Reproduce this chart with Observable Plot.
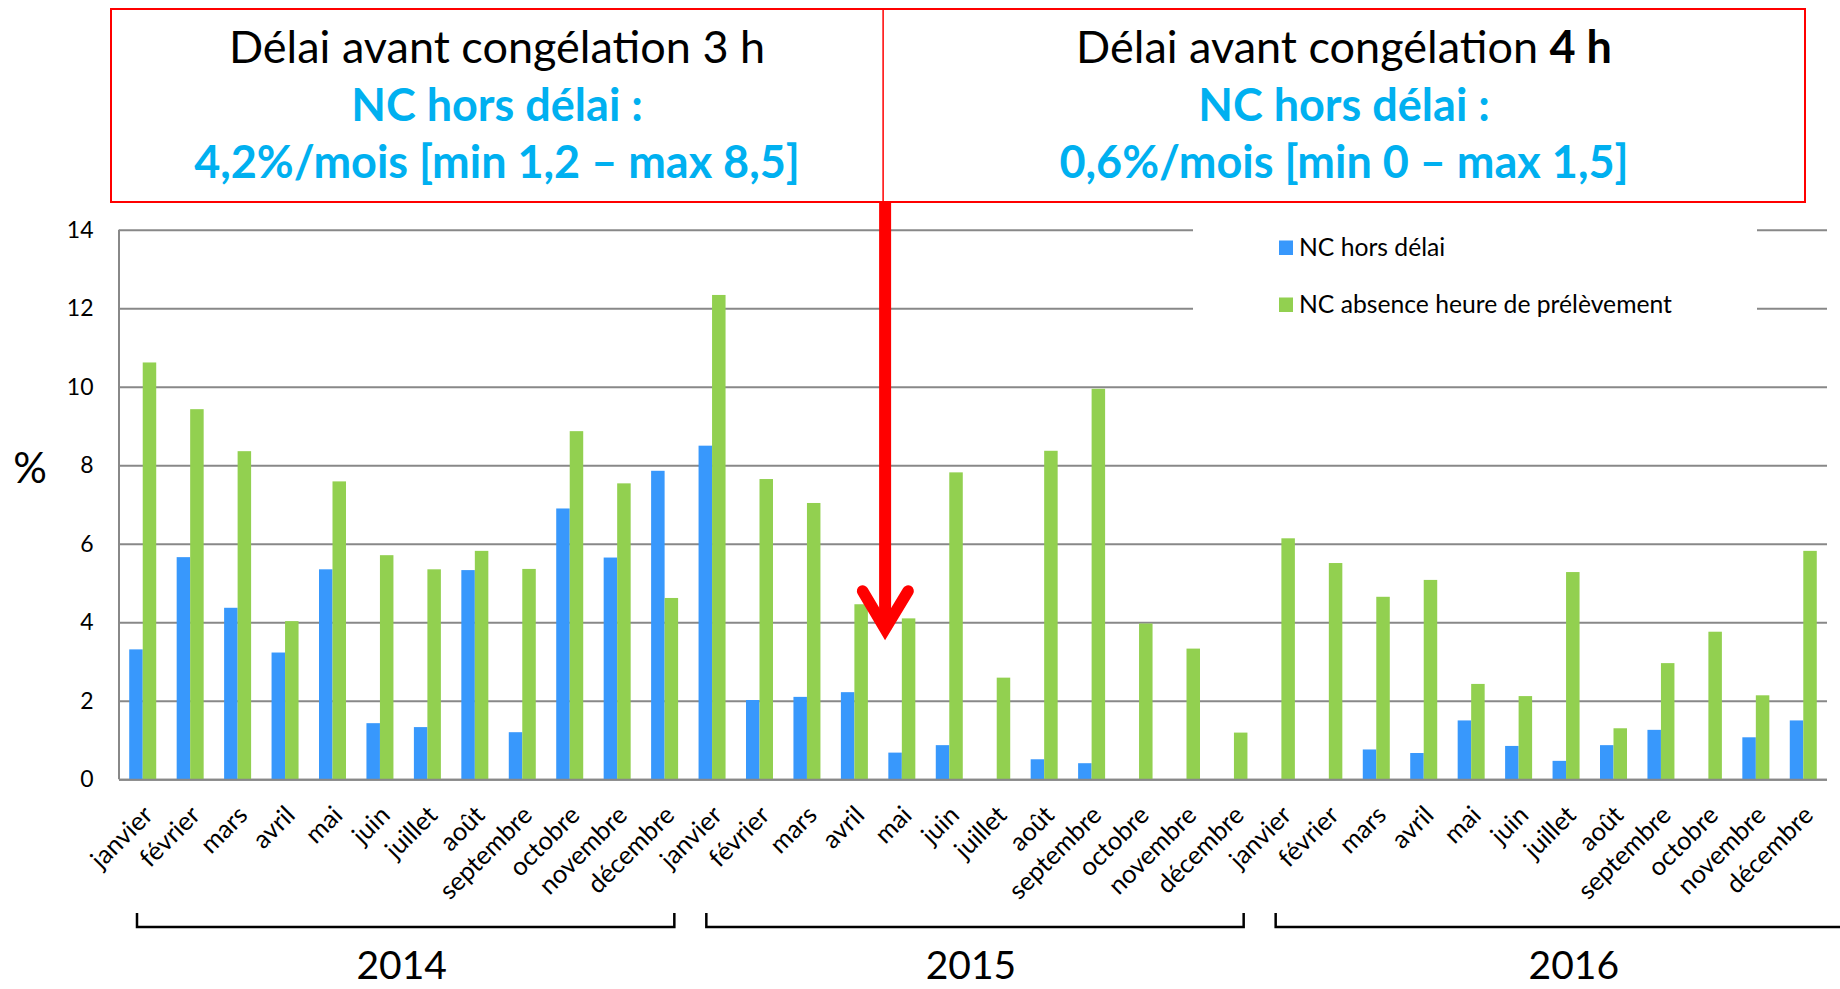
<!DOCTYPE html>
<html lang="fr">
<head>
<meta charset="utf-8">
<title>NC hors délai et NC absence heure de prélèvement, 2014–2016</title>
<script src="https://cdn.jsdelivr.net/npm/d3@7"></script>
<script src="https://cdn.jsdelivr.net/npm/@observablehq/plot@0.6"></script>
<style>
  html, body { margin: 0; padding: 0; background: #fff; overflow: hidden; }
  #chart svg { display: block; }
</style>
</head>
<body>
<div id="chart"></div>
<script>
// Monthly non-conformity rates (%), January 2014 – December 2016
const years = ["2014", "2015", "2016"];
const monthNames = ["janvier", "février", "mars", "avril", "mai", "juin",
  "juillet", "août", "septembre", "octobre", "novembre", "décembre"];

// NC hors délai (sample frozen too late), one value per month
const ncHorsDelai = [
  3.31, 5.66, 4.37, 3.23, 5.35, 1.43, 1.33, 5.33, 1.2, 6.90, 5.65, 7.86,
  8.5, 2.02, 2.10, 2.22, 0.68, 0.87, 0, 0.51, 0.41, 0, 0, 0,
  0, 0, 0.76, 0.67, 1.5, 0.85, 0.47, 0.87, 1.26, 0, 1.07, 1.5
];
// NC absence heure de prélèvement (sampling time missing)
const ncAbsenceHeure = [
  10.62, 9.43, 8.36, 4.03, 7.59, 5.71, 5.35, 5.82, 5.36, 8.87, 7.54, 4.62,
  12.34, 7.65, 7.04, 4.46, 4.10, 7.82, 2.59, 8.37, 9.95, 3.97, 3.33, 1.19,
  6.14, 5.51, 4.65, 5.08, 2.43, 2.12, 5.28, 1.30, 2.96, 3.76, 2.14, 5.82
];

const seriesNames = ["NC hors délai", "NC absence heure de prélèvement"];
const yTicks = [0, 2, 4, 6, 8, 10, 12, 14];

// The two freezing-delay periods; the change happens in May 2015
const periodStart = ["2014-1", "2015-5"];
const periodTitle = ["Délai avant congélation ", "Délai avant congélation "];
const periodHours = ["3 h", "4 h"];
const periodHoursBold = [false, true];
const periodSummary = ["NC hors délai :", "NC hors délai :"];
const periodDetail = ["4,2%/mois [min 1,2 – max 8,5]", "0,6%/mois [min 0 – max 1,5]"];

// ---- styling and layout ----
const BLUE = "#3898fc";
const GREEN = "#92d050";
const GRID = "#888888";
const RED = "#ff0000";
const CYAN = "#00b0f0";
const FONT = "Lato, 'Open Sans', sans-serif";

const W = 1840, H = 989;
const M = {top: 229.8, right: 13, bottom: 209.7, left: 119};
const padInner = 0.431, padOuter = padInner / 2;
const nMonths = years.length * monthNames.length;
const stepPx = (W - M.left - M.right) / nMonths;
const bwPx = stepPx * (1 - padInner);

const rows = years.flatMap((year, yi) => monthNames.map((month, mi) => ({
  id: `${year}-${mi + 1}`,
  year,
  month,
  hors: ncHorsDelai[yi * 12 + mi],
  absence: ncAbsenceHeure[yi * 12 + mi]
})));

const plot = Plot.plot({
  width: W,
  height: H,
  marginTop: M.top,
  marginRight: M.right,
  marginBottom: M.bottom,
  marginLeft: M.left,
  style: {fontFamily: FONT, fontSize: "23px", color: "#000", background: "#fff", overflow: "visible"},
  x: {type: "band", domain: rows.map(d => d.id), paddingInner: padInner, paddingOuter: padOuter, round: false, axis: null},
  y: {domain: [0, 14], ticks: yTicks, tickSize: 0, tickPadding: 26, label: null},
  marks: [
    Plot.ruleY(yTicks, {stroke: GRID, strokeWidth: 2}),
    Plot.barY(rows, {x: "id", y: "hors", fill: BLUE, insetRight: bwPx / 2}),
    Plot.barY(rows, {x: "id", y: "absence", fill: GREEN, insetLeft: bwPx / 2}),
    Plot.ruleY([0], {stroke: GRID, strokeWidth: 2}),
    Plot.text(rows, {
      x: "id", text: "month", frameAnchor: "bottom",
      rotate: -45, textAnchor: "end", lineAnchor: "bottom",
      dx: 11, dy: 37, fontSize: 25.5, fill: "#000"
    })
  ]
});

document.getElementById("chart").append(plot);

// ---- annotations drawn against the plot's own scales ----
const svg = d3.select(plot);
const xs = plot.scale("x");
const ys = plot.scale("y");
const step = xs.step ?? stepPx;
const bw = xs.bandwidth ?? bwPx;
const bandStart = id => xs.apply(id) - (step - bw) / 2;
const bandEnd = id => xs.apply(id) + bw + (step - bw) / 2;

// left axis line
svg.append("line")
  .attr("x1", M.left).attr("x2", M.left)
  .attr("y1", ys.apply(14)).attr("y2", ys.apply(0))
  .attr("stroke", GRID).attr("stroke-width", 2);

// "%" axis title
svg.append("text")
  .attr("x", 30).attr("y", 483)
  .attr("text-anchor", "middle")
  .attr("font-family", FONT).attr("font-size", 42)
  .attr("fill", "#000")
  .text("%");

// legend, on a white panel that interrupts the top gridlines
const legend = svg.append("g").attr("text-anchor", "start");
legend.append("rect")
  .attr("x", 1193).attr("y", 220).attr("width", 564).attr("height", 108)
  .attr("fill", "#fff");
[BLUE, GREEN].forEach((color, i) => {
  const base = 255.5 + i * 57;
  legend.append("rect")
    .attr("x", 1279).attr("y", base - 15).attr("width", 14).attr("height", 14.5)
    .attr("fill", color);
  legend.append("text")
    .attr("x", 1299).attr("y", base)
    .attr("text-anchor", "start")
    .attr("font-family", FONT).attr("font-size", 24.7).attr("fill", "#000")
    .text(seriesNames[i]);
});

// title boxes for the two periods
const box = {left: 111, right: 1805, top: 9, bottom: 202};
const split = bandStart(periodStart[1]) + 5;
svg.append("rect")
  .attr("x", box.left).attr("y", box.top)
  .attr("width", box.right - box.left).attr("height", box.bottom - box.top)
  .attr("fill", "#fff").attr("stroke", RED).attr("stroke-width", 2);
svg.append("line")
  .attr("x1", split).attr("x2", split).attr("y1", box.top).attr("y2", box.bottom)
  .attr("stroke", RED).attr("stroke-width", 1.5);

const panelEdges = [[box.left, split], [split, box.right]];
panelEdges.forEach(([a, b], i) => {
  const cx = (a + b) / 2;
  const t1 = svg.append("text")
    .attr("x", cx).attr("y", 63)
    .attr("text-anchor", "middle")
    .attr("font-family", FONT).attr("font-size", 45).attr("fill", "#000");
  t1.append("tspan").text(periodTitle[i]);
  t1.append("tspan").attr("font-weight", periodHoursBold[i] ? "bold" : "normal").text(periodHours[i]);
  svg.append("text")
    .attr("x", cx).attr("y", 121)
    .attr("text-anchor", "middle")
    .attr("font-family", FONT).attr("font-size", 45).attr("font-weight", "bold")
    .attr("fill", CYAN)
    .text(periodSummary[i]);
  svg.append("text")
    .attr("x", cx).attr("y", 178)
    .attr("text-anchor", "middle")
    .attr("font-family", FONT).attr("font-size", 45).attr("font-weight", "bold")
    .attr("fill", CYAN)
    .text(periodDetail[i]);
});

// red arrow marking the switch from 3 h to 4 h
const ax = split + 2;
svg.append("line")
  .attr("x1", ax).attr("x2", ax).attr("y1", box.bottom).attr("y2", 630)
  .attr("stroke", RED).attr("stroke-width", 12);
svg.append("polyline")
  .attr("points", [[ax - 22.5, 591], [ax, 629], [ax + 23, 591]].map(p => p.join(",")).join(" "))
  .attr("fill", "none").attr("stroke", RED).attr("stroke-width", 11.5)
  .attr("stroke-linecap", "round").attr("stroke-linejoin", "miter");

// year brackets under the month labels
years.forEach((year, i) => {
  const x1 = bandStart(`${year}-1`) + 18;
  const last = i === years.length - 1;
  const x2 = last ? W + 40 : bandEnd(`${year}-12`) - 14;
  svg.append("path")
    .attr("d", `M${x1},913V927H${x2}V913`)
    .attr("fill", "none").attr("stroke", "#000").attr("stroke-width", 2.5);
  svg.append("text")
    .attr("x", (x1 + x2) / 2 - 4).attr("y", 979)
    .attr("text-anchor", "middle")
    .attr("font-family", FONT).attr("font-size", 39).attr("fill", "#000")
    .text(year);
});
</script>
</body>
</html>
